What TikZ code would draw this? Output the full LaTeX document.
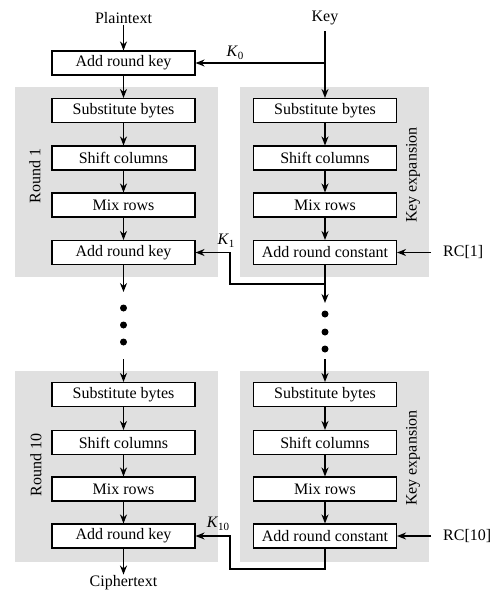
\documentclass[tikz,border=0pt]{standalone}
\usepackage{fontspec}
\setmainfont{Liberation Serif}
\usetikzlibrary{arrows.meta,calc}
\definecolor{panel}{RGB}{224,224,224}
\newcommand{\Kl}[1]{\textit{K}\raisebox{-0.35ex}{\fontsize{11}{11}\selectfont #1}}
\begin{document}
\begin{tikzpicture}[x=1pt,y=-1pt,
  every node/.style={font=\fontsize{16}{18}\selectfont},
  opbox/.style={draw=black,line width=1.1pt,fill=white,minimum width=143pt,minimum height=24pt,inner sep=0pt},
  panelbox/.style={fill=panel,draw=none,inner sep=0pt},
  arr/.style={line width=1.6pt,-{Stealth[length=9pt,width=7pt]}},
  ln/.style={line width=1.6pt},
  dotn/.style={circle,fill=black,minimum size=7pt,inner sep=0pt},
  lbl/.style={inner sep=1pt}]
\useasboundingbox (0,0) rectangle (490,592);
% panels
\node[panelbox,minimum width=203pt,minimum height=190pt] (p1l) at (116.5,182) {};
\node[panelbox,minimum width=189pt,minimum height=190pt] (p1r) at (334.5,182) {};
\node[panelbox,minimum width=203pt,minimum height=191pt] (p10l) at (116.5,466.5) {};
\node[panelbox,minimum width=189pt,minimum height=191pt] (p10r) at (334.5,466.5) {};
% texts
\node[lbl] (pt) at (123.5,18) {Plaintext};
\node[lbl] (key) at (325,18) {Key};
\node[lbl] (ct) at (123.5,583) {Ciphertext};
\node[lbl,rotate=90] (r1) at (35,176) {Round 1};
\node[lbl,rotate=90] (r10) at (36,465) {Round 10};
\node[lbl,rotate=90] (ke1) at (413,175) {Key expansion};
\node[lbl,rotate=90] (ke10) at (413,458) {Key expansion};
% top
\node[opbox] (ark0) at (123.5,63) {Add round key};
% round 1
\node[opbox] (sbl1) at (123.5,110.5) {Substitute bytes};
\node[opbox] (scl1) at (123.5,158) {Shift columns};
\node[opbox] (mrl1) at (123.5,205) {Mix rows};
\node[opbox] (ark1) at (123.5,252.5) {Add round key};
\node[opbox] (sbr1) at (325,110.5) {Substitute bytes};
\node[opbox] (scr1) at (325,158) {Shift columns};
\node[opbox] (mrr1) at (325,205) {Mix rows};
\node[opbox] (arc1) at (325,252.5) {Add round constant};
% round 10
\node[opbox] (sbl10) at (123.5,394.5) {Substitute bytes};
\node[opbox] (scl10) at (123.5,442.5) {Shift columns};
\node[opbox] (mrl10) at (123.5,489) {Mix rows};
\node[opbox] (ark10) at (123.5,536) {Add round key};
\node[opbox] (sbr10) at (325,394.5) {Substitute bytes};
\node[opbox] (scr10) at (325,442.5) {Shift columns};
\node[opbox] (mrr10) at (325,489) {Mix rows};
\node[opbox] (arc10) at (325,536) {Add round constant};
% RC labels
\node[lbl,anchor=west] (rc1) at (442,252.5) {RC[1]};
\node[lbl,anchor=west] (rc10) at (442,536) {RC[10]};
% K labels
\node[lbl] (k0) at (235,53) {\Kl{0}};
\node[lbl] (k1) at (226,241) {\Kl{1}};
\node[lbl] (k10) at (218,524) {\Kl{10}};
% dots
\node[dotn] (dl1) at (123.5,308) {};
\node[dotn] (dl2) at (123.5,325) {};
\node[dotn] (dl3) at (123.5,342) {};
\node[dotn] (dr1) at (325,314) {};
\node[dotn] (dr2) at (325,332) {};
\node[dotn] (dr3) at (325,349) {};
% coordinates
\coordinate (keytop) at (325,31);
\coordinate (kbr0) at (325,63);
\coordinate (k1r) at (325,284);
\coordinate (k1l) at (230,284);
\coordinate (kd1) at (325,303);
\coordinate (ld1) at (123.5,292);
\coordinate (ld2) at (123.5,359);
\coordinate (rd2) at (325,359);
\coordinate (k10r) at (325,569);
\coordinate (k10l) at (230,569);
\coordinate (rct1) at (431,252.5);
\coordinate (rct10) at (431,536);
% connectors
\draw[arr] (pt) -- (ark0);
\draw[ln] (keytop) -- (kbr0);
\draw[arr] (kbr0) -- (sbr1);
\draw[arr] (kbr0) -- (ark0);
\draw[arr] (ark0) -- (sbl1);
\draw[arr] (sbl1) -- (scl1);
\draw[arr] (scl1) -- (mrl1);
\draw[arr] (mrl1) -- (ark1);
\draw[arr] (sbr1) -- (scr1);
\draw[arr] (scr1) -- (mrr1);
\draw[arr] (mrr1) -- (arc1);
\draw[arr] (rct1) -- (arc1);
\draw[arr] (arc1.south) -- (k1r) -- (k1l) |- (ark1.east);
\draw[arr] (k1r) -- (kd1);
\draw[arr] (ark1) -- (ld1);
\draw[arr] (ld2) -- (sbl10);
\draw[arr] (rd2) -- (sbr10);
\draw[arr] (sbl10) -- (scl10);
\draw[arr] (scl10) -- (mrl10);
\draw[arr] (mrl10) -- (ark10);
\draw[arr] (sbr10) -- (scr10);
\draw[arr] (scr10) -- (mrr10);
\draw[arr] (mrr10) -- (arc10);
\draw[arr] (rct10) -- (arc10);
\draw[arr] (arc10.south) -- (k10r) -- (k10l) |- (ark10.east);
\draw[arr] (ark10) -- (ct);
\end{tikzpicture}
\end{document}
